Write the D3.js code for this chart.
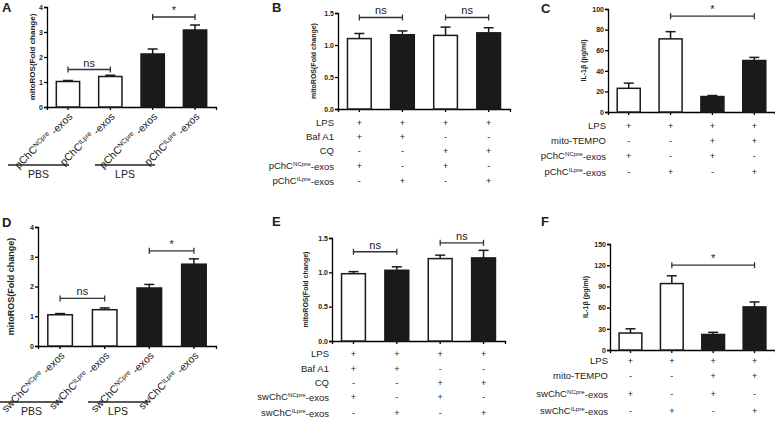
<!doctype html>
<html>
<head>
<meta charset="UTF-8">
<script src="https://cdn.jsdelivr.net/npm/d3@7"></script>
<style>
body{margin:0;background:#fff;}
text{font-family:"Liberation Sans",Arial,sans-serif;fill:#222;}
</style>
</head>
<body>
<svg id="fig" width="775" height="434"></svg>
<script>
// values
var aVals = [1.02, 1.22, 2.12, 3.08], aErr = [0.04, 0.05, 0.2, 0.2];
var bVals = [1.10, 1.16, 1.15, 1.19], bErr = [0.08, 0.06, 0.13, 0.08];
var cVals = [23, 71, 15, 50], cErr = [5, 7, 1, 3];
var dVals = [1.05, 1.22, 1.95, 2.75], dErr = [0.04, 0.06, 0.12, 0.18];
var eVals = [0.98, 1.03, 1.20, 1.21], eErr = [0.03, 0.05, 0.05, 0.11];
var fVals = [24, 94, 22, 61], fErr = [6, 11, 3, 7];
var fills = ["#fff", "#fff", "#1a1a1a", "#1a1a1a"];
var fillsB = ["#fff", "#1a1a1a", "#fff", "#1a1a1a"];
var rowsB = [["LPS","+","+","+","+"],["Baf A1","+","+","-","-"],["CQ","-","-","+","+"],["NC","+","-","+","-"],["IL","-","+","-","+"]];
var rowsC = [["LPS","+","+","+","+"],["mito-TEMPO","-","-","+","+"],["NC","+","-","+","-"],["IL","-","+","-","+"]];

var svg = d3.select("#fig");

function superLabel(t, prefix, sup, suffix){
    t.append("tspan").text(prefix);
    t.append("tspan").attr("font-size","0.65em").attr("dy","-0.45em").text(sup);
    t.append("tspan").attr("dy","0.45em").text(suffix);
}

function panel(o){
    var g = svg.append("g");
    var y = d3.scaleLinear().domain([0, o.max]).range([o.y0, o.y1]);
    var x = d3.scaleBand().domain(d3.range(4)).range([o.x0, o.x1]).paddingInner(0.45).paddingOuter(0.22);
    g.append("g").attr("transform","translate("+o.x0+",0)")
        .call(d3.axisLeft(y).tickValues(o.ticks).tickFormat(o.fmt).tickSize(3).tickPadding(1))
        .call(a => a.selectAll("text").attr("font-size",7).attr("font-weight","bold"))
        .call(a => a.selectAll("path,line").attr("stroke-width",1.3));
    g.append("g").attr("transform","translate(0,"+o.y0+")")
        .call(d3.axisBottom(x).tickSize(3).tickFormat(""))
        .call(a => a.selectAll("path,line").attr("stroke-width",1.3));
    g.selectAll(".bar").data(o.vals).join("rect")
        .attr("x",(d,i)=>x(i)).attr("width",x.bandwidth())
        .attr("y",d=>y(d)).attr("height",d=>o.y0-y(d))
        .attr("fill",(d,i)=>o.fills[i]).attr("stroke","#1a1a1a").attr("stroke-width",1.5);
    o.vals.forEach(function(v,i){
        var cx = x(i)+x.bandwidth()/2, top = y(v+o.err[i]);
        g.append("line").attr("x1",cx).attr("x2",cx).attr("y1",y(v)).attr("y2",top).attr("stroke","#1a1a1a").attr("stroke-width",1.5);
        g.append("line").attr("x1",cx-5).attr("x2",cx+5).attr("y1",top).attr("y2",top).attr("stroke","#1a1a1a").attr("stroke-width",1.5);
    });
    o.brackets.forEach(function(b){
        var xa = x(b[0])+x.bandwidth()/2, xb = x(b[1])+x.bandwidth()/2, yy = y(b[2]);
        g.append("line").attr("x1",xa).attr("x2",xb).attr("y1",yy).attr("y2",yy).attr("stroke","#333").attr("stroke-width",1.3);
        [xa,xb].forEach(xx => g.append("line").attr("x1",xx).attr("x2",xx).attr("y1",yy-3).attr("y2",yy+3).attr("stroke","#333").attr("stroke-width",1.3));
        g.append("text").attr("x",(xa+xb)/2).attr("y",yy-3).attr("text-anchor","middle")
            .attr("font-size",11).text(b[3]);
    });
    g.append("text").attr("x",o.lx).attr("y",o.ly).attr("font-size",13).attr("font-weight","bold").text(o.letter);
    g.append("text").attr("transform","translate("+(o.x0-o.yoff)+","+((o.y0+o.y1)/2)+") rotate(-90)")
        .attr("text-anchor","middle").attr("font-size",o.ysize||8).attr("font-weight","bold").text(o.ylabel);
    return {g:g, x:x};
}

function table(p, rows, yRows, labX, pre){
    rows.forEach(function(r,ri){
        var t = p.g.append("text").attr("x",labX).attr("y",yRows[ri]).attr("text-anchor","end").attr("font-size",9.5);
        if(r[0]=="NC") superLabel(t, pre, "NCpre", "-exos");
        else if(r[0]=="IL") superLabel(t, pre, "ILpre", "-exos");
        else t.text(r[0]);
        for(var i=0;i<4;i++)
            p.g.append("text").attr("x",p.x(i)+p.x.bandwidth()/2).attr("y",yRows[ri]).attr("text-anchor","middle")
                .attr("font-size",9).style("fill","#222").text(r[i+1]);
    });
}

function groupLabels(p, pre, y0, lineY, lines){
    var sups = ["NCpre","ILpre","NCpre","ILpre"];
    for(var i=0;i<4;i++){
        var cx = p.x(i)+p.x.bandwidth()/2;
        var t = p.g.append("text").attr("transform","translate("+(cx+4)+","+(y0+9)+") rotate(-45)")
            .attr("text-anchor","end").attr("font-size",10.5);
        superLabel(t, pre, sups[i], " -exos");
    }
    lines.forEach(function(l){
        p.g.append("line").attr("x1",l[0]).attr("x2",l[1]).attr("y1",lineY).attr("y2",lineY).attr("stroke","#222").attr("stroke-width",1.3);
        p.g.append("text").attr("x",(l[0]+l[1])/2).attr("y",lineY+13).attr("text-anchor","middle").attr("font-size",10.5).text(l[2]);
    });
}

var fmt0 = d3.format("d"), fmt1 = d3.format(".1f");

var pa = panel({letter:"A",lx:2,ly:12,x0:47,x1:216,y0:107,y1:7,max:4,ticks:[0,1,2,3,4],fmt:fmt0,
    vals:aVals,err:aErr,fills:fills,brackets:[[0,1,1.5,"ns"],[2,3,3.6,"*"]],ylabel:"mitoROS(Fold change)",yoff:12});
groupLabels(pa,"pChC",107,165,[[8,69,"PBS"],[95,155,"LPS"]]);

var pb = panel({letter:"B",lx:272,ly:12,x0:338,x1:510,y0:109,y1:13,max:1.5,ticks:[0,0.5,1,1.5],fmt:fmt1,
    vals:bVals,err:bErr,fills:fillsB,brackets:[[0,1,1.43,"ns"],[2,3,1.43,"ns"]],ylabel:"mitoROS(Fold change)",yoff:22,ysize:7});
table(pb, rowsB, [126,140,154,169,184], 334, "pChC");

var pc = panel({letter:"C",lx:541,ly:13,x0:608,x1:775,y0:112,y1:9,max:100,ticks:[0,20,40,60,80,100],fmt:fmt0,
    vals:cVals,err:cErr,fills:fills,brackets:[[1,3,93,"*"]],ylabel:"IL-1β  (pg/ml)",yoff:22,ysize:7});
table(pc, rowsC, [129,144,159,175], 606, "pChC");

var pd = panel({letter:"D",lx:2,ly:227,x0:38,x1:216,y0:346,y1:227,max:4,ticks:[0,1,2,3,4],fmt:fmt0,
    vals:dVals,err:dErr,fills:fills,brackets:[[0,1,1.6,"ns"],[2,3,3.2,"*"]],ylabel:"mitoROS(Fold change)",yoff:24,ysize:9});
groupLabels(pd,"swChC",346,402,[[0,63,"PBS"],[88,148,"LPS"]]);

var pe = panel({letter:"E",lx:272,ly:226,x0:332,x1:505,y0:341,y1:238,max:1.5,ticks:[0,0.5,1,1.5],fmt:fmt1,
    vals:eVals,err:eErr,fills:fillsB,brackets:[[0,1,1.3,"ns"],[2,3,1.43,"ns"]],ylabel:"mitoROS(Fold change)",yoff:24,ysize:7});
table(pe, rowsB, [357,372,386,400,416], 329, "swChC");

var pf = panel({letter:"F",lx:541,ly:226,x0:610,x1:775,y0:350,y1:244,max:150,ticks:[0,30,60,90,120,150],fmt:fmt0,
    vals:fVals,err:fErr,fills:fills,brackets:[[1,3,120,"*"]],ylabel:"IL-1β  (pg/ml)",yoff:22,ysize:7});
table(pf, rowsC, [364,379,397,414], 608, "swChC");
</script>
</body>
</html>
